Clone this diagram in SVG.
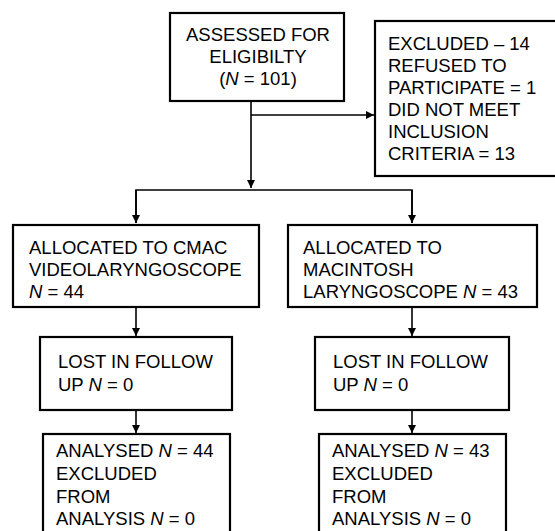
<svg xmlns="http://www.w3.org/2000/svg" width="555" height="531" viewBox="0 0 555 531">
<defs>
<marker id="arr" markerWidth="8" markerHeight="8" refX="8" refY="4" orient="auto" markerUnits="userSpaceOnUse">
<path d="M0,0 L8,4 L0,8 Z" fill="#000"/>
</marker>
<style>
.box{fill:#fff;stroke:#000;stroke-width:2.2}
.t{font-family:"Liberation Sans",Arial,sans-serif;font-size:18.5px;fill:#000}
.c{text-anchor:middle}
.i{font-style:italic}
.ln{fill:none;stroke:#000;stroke-width:1.6}
</style>
</defs>
<rect width="555" height="531" fill="#fff"/>
<g id="connectors">
<path class="ln" d="M251,101 V188" marker-end="url(#arr)"/>
<path class="ln" d="M251,115 H374" marker-end="url(#arr)"/>
<path class="ln" d="M136,223 V190 H412 V223" />
<path class="ln" d="M136,190 V223" marker-end="url(#arr)"/>
<path class="ln" d="M412,190 V223" marker-end="url(#arr)"/>
<path class="ln" d="M136,307 V336" marker-end="url(#arr)"/>
<path class="ln" d="M412,307 V336" marker-end="url(#arr)"/>
<path class="ln" d="M136,410 V433" marker-end="url(#arr)"/>
<path class="ln" d="M412,410 V433" marker-end="url(#arr)"/>
</g>
<g id="assessed">
<rect class="box" x="170" y="13" width="174" height="88"/>
<text class="t c" x="258" y="41">ASSESSED FOR</text>
<text class="t c" x="258" y="63">ELIGIBILTY</text>
<text class="t c" x="258" y="85">(<tspan class="i">N</tspan> = 101)</text>
</g>
<g id="excluded">
<rect class="box" x="375" y="21" width="185" height="155"/>
<text class="t" x="388" y="50">EXCLUDED – 14</text>
<text class="t" x="388" y="72">REFUSED TO</text>
<text class="t" x="388" y="94">PARTICIPATE = 1</text>
<text class="t" x="388" y="116">DID NOT MEET</text>
<text class="t" x="388" y="138">INCLUSION</text>
<text class="t" x="388" y="160">CRITERIA = 13</text>
</g>
<g id="alloc-cmac">
<rect class="box" x="13" y="225" width="246" height="82"/>
<text class="t" x="29" y="254">ALLOCATED TO CMAC</text>
<text class="t" x="29" y="276">VIDEOLARYNGOSCOPE</text>
<text class="t" x="29" y="298"><tspan class="i">N</tspan> = 44</text>
</g>
<g id="alloc-mac">
<rect class="box" x="288" y="225" width="249" height="82"/>
<text class="t" x="303" y="254">ALLOCATED TO</text>
<text class="t" x="303" y="276">MACINTOSH</text>
<text class="t" x="303" y="298">LARYNGOSCOPE <tspan class="i">N</tspan> = 43</text>
</g>
<g id="lost-left">
<rect class="box" x="40" y="337" width="192" height="73"/>
<text class="t" x="58" y="368">LOST IN FOLLOW</text>
<text class="t" x="58" y="391">UP <tspan class="i">N</tspan> = 0</text>
</g>
<g id="lost-right">
<rect class="box" x="315" y="337" width="194" height="73"/>
<text class="t" x="333" y="368">LOST IN FOLLOW</text>
<text class="t" x="333" y="391">UP <tspan class="i">N</tspan> = 0</text>
</g>
<g id="analysed-left">
<rect class="box" x="43" y="434" width="187" height="110"/>
<text class="t" x="56" y="457">ANALYSED <tspan class="i">N</tspan> = 44</text>
<text class="t" x="56" y="480">EXCLUDED</text>
<text class="t" x="56" y="503">FROM</text>
<text class="t" x="56" y="525">ANALYSIS <tspan class="i">N</tspan> = 0</text>
</g>
<g id="analysed-right">
<rect class="box" x="319" y="434" width="187" height="110"/>
<text class="t" x="332" y="457">ANALYSED <tspan class="i">N</tspan> = 43</text>
<text class="t" x="332" y="480">EXCLUDED</text>
<text class="t" x="332" y="503">FROM</text>
<text class="t" x="332" y="525">ANALYSIS <tspan class="i">N</tspan> = 0</text>
</g>
</svg>
